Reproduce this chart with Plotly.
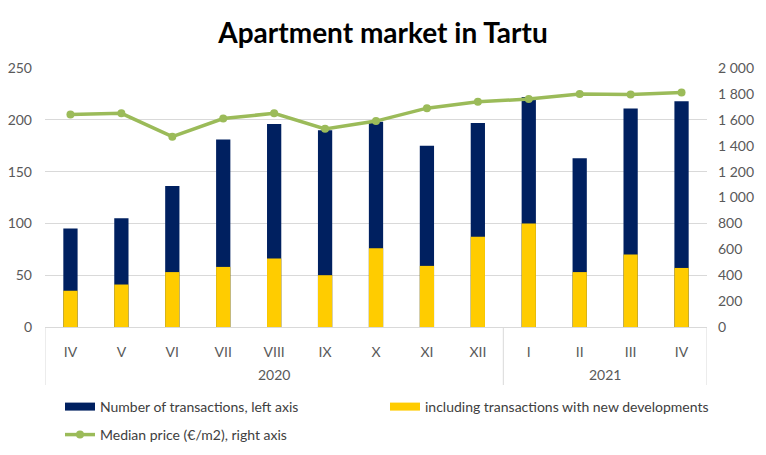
import plotly.graph_objects as go

months = ["IV", "V", "VI", "VII", "VIII", "IX", "X", "XI", "XII", "I", "II", "III", "IV"]
years = ["2020"] * 9 + ["2021"] * 4
transactions = [95, 105, 136, 181, 196, 190, 198, 175, 197, 222, 163, 211, 218]
new_dev = [35, 41, 53, 58, 66, 50, 76, 59, 87, 100, 53, 70, 57]
median_price = [1640, 1650, 1470, 1610, 1650, 1530, 1590, 1690, 1740, 1760, 1800, 1795, 1810]

idx = list(range(len(months)))
FONT = "Lato"
TICK = "#595959"
GRID = "#d9d9d9"
NAVY = "#002060"
YELLOW = "#FFCC00"
GREEN = "#9BBB59"

fig = go.Figure()
fig.add_trace(go.Bar(x=idx, y=transactions, name="Number of transactions, left axis",
                     marker=dict(color=NAVY, line=dict(width=0)), width=0.28,
                     showlegend=False))
fig.add_trace(go.Bar(x=idx, y=new_dev, name="including transactions with new developments",
                     marker=dict(color=YELLOW, line=dict(width=0)), width=0.28,
                     showlegend=False))
fig.add_trace(go.Scatter(x=idx, y=median_price, name="Median price (€/m2), right axis",
                         yaxis="y2", mode="lines+markers",
                         line=dict(color=GREEN, width=3.5),
                         marker=dict(color=GREEN, size=8),
                         legend="legend2"))
# legend swatches (wide rectangles like the original)
fig.add_trace(go.Scatter(x=[None], y=[None], mode="lines", name="Number of transactions, left axis",
                         line=dict(color=NAVY, width=8), legend="legend"))
fig.add_trace(go.Scatter(x=[None], y=[None], mode="lines",
                         name="including transactions with new developments",
                         line=dict(color=YELLOW, width=8), legend="legend"))

# year group labels and dividers
groups = []
for i, yv in enumerate(years):
    if not groups or groups[-1][0] != yv:
        groups.append([yv, i, i])
    else:
        groups[-1][2] = i

annotations = []
shapes = []
for g, start, end in groups:
    annotations.append(dict(x=(start + end) / 2, y=-0.185, xref="x", yref="paper",
                            text=g, showarrow=False, yanchor="middle",
                            font=dict(family=FONT, size=14, color=TICK)))
    shapes.append(dict(type="line", xref="x", yref="paper", x0=start - 0.5, x1=start - 0.5,
                       y0=0, y1=-0.224, line=dict(color=GRID, width=1)))
shapes.append(dict(type="line", xref="x", yref="paper", x0=groups[-1][2] + 0.5,
                   x1=groups[-1][2] + 0.5, y0=0, y1=-0.224, line=dict(color=GRID, width=1)))

legend_common = dict(orientation="h", xanchor="left", yanchor="middle",
                     xref="container", yref="container",
                     font=dict(family=FONT, size=14, color="#404040"),
                     bgcolor="rgba(0,0,0,0)", traceorder="normal")

fig.update_layout(
    width=766, height=455,
    barmode="overlay",
    paper_bgcolor="white", plot_bgcolor="white",
    separators=". ",
    font=dict(family=FONT, color=TICK, size=14),
    margin=dict(l=45, r=59, t=68, b=128, autoexpand=False),
    title=dict(text="<b>Apartment market in Tartu</b>", x=0.5, xanchor="center",
               y=0.927, yanchor="middle",
               font=dict(family=FONT, size=28, color="black")),
    xaxis=dict(range=[-0.5, len(months) - 0.5], tickmode="array", tickvals=idx, ticktext=months,
               showgrid=False, zeroline=False, showline=True, linecolor=GRID,
               linewidth=1, ticks="outside", ticklen=12, tickcolor="rgba(0,0,0,0)",
               tickfont=dict(color=TICK, size=14), automargin=False),
    yaxis=dict(range=[0, 250], dtick=50, showgrid=True, gridcolor=GRID,
               zeroline=False, showline=False, ticks="", ticklabelstandoff=12,
               tickfont=dict(color=TICK, size=14), automargin=False),
    yaxis2=dict(range=[0, 2000], dtick=200, overlaying="y", side="right",
                showgrid=False, zeroline=False, showline=False, tickformat=",d",
                ticklabelstandoff=10, tickfont=dict(color=TICK, size=14), automargin=False),
    showlegend=True,
    legend=dict(x=0.0783, y=0.1055, entrywidth=280, entrywidthmode="pixels", **legend_common),
    legend2=dict(x=0.0783, y=0.044, **legend_common),
    annotations=annotations,
    shapes=shapes,
)

fig.write_html("out.html")
